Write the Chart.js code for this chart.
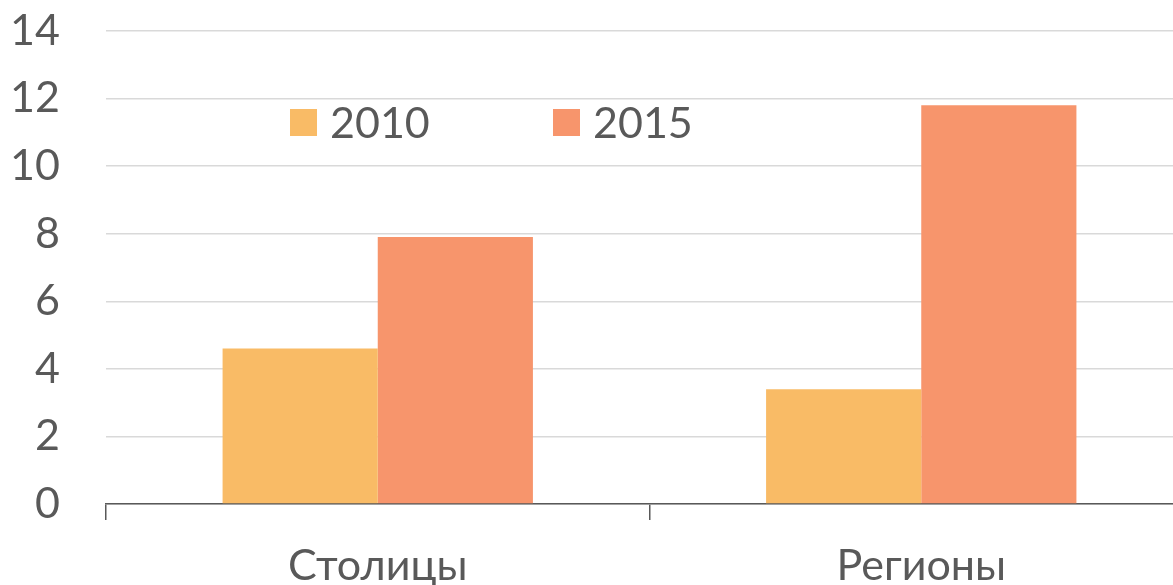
<!DOCTYPE html>
<html>
<head>
<meta charset="utf-8">
<script src="https://cdn.jsdelivr.net/npm/chart.js@4.4.1/dist/chart.umd.min.js"></script>
<style>
  html, body { margin: 0; padding: 0; background: #fff; overflow: hidden; }
  #wrap { position: relative; width: 1195px; height: 585px; }
</style>
</head>
<body>
<div id="wrap"><canvas id="share-chart"></canvas></div>
<script>
const ctxShare = document.getElementById('share-chart').getContext('2d')

const FONT = "Lato, 'Open Sans', sans-serif"
const TEXT_COLOR = '#595959'

const labelsShare = ['Столицы', 'Регионы']
const values2010 = [4.6, 3.4]
const values2015 = [7.9, 11.8]
const yTicks = [0, 2, 4, 6, 8, 10, 12, 14]

// legend drawn inside the plot, like the original
const innerLegend = {
  id: 'innerLegend',
  afterDraw(chart, args, opts) {
    const { ctx, chartArea } = chart
    ctx.save()
    ctx.font = '43px ' + FONT
    ctx.textBaseline = 'middle'
    chart.data.datasets.forEach((ds, i) => {
      const x = chartArea.left + opts.offsets[i]
      const y = opts.top
      ctx.fillStyle = ds.backgroundColor
      ctx.fillRect(x, y, 27, 27)
      ctx.fillStyle = TEXT_COLOR
      ctx.fillText(ds.label, x + 40, y + 15)
    })
    ctx.restore()
  },
}

const dataShare = {
  labels: labelsShare,
  datasets: [
    {
      label: '2010',
      data: values2010,
      backgroundColor: '#F9BB66',
    },
    {
      label: '2015',
      data: values2015,
      backgroundColor: '#F7956C',
    },
  ],
}

const configShare = {
  type: 'bar',
  data: dataShare,
  plugins: [innerLegend],
  options: {
    responsive: true,
    maintainAspectRatio: false,
    animation: false,
    categoryPercentage: 0.571,
    barPercentage: 1,
    layout: { padding: { top: 31, left: 0, right: 2, bottom: 0 } },
    plugins: {
      legend: { display: false },
      tooltip: { enabled: false },
      innerLegend: { top: 109, offsets: [184, 447] },
    },
    scales: {
      x: {
        offset: true,
        grid: {
          offset: true,
          drawOnChartArea: false,
          drawTicks: true,
          tickLength: 16,
          color: TEXT_COLOR,
          lineWidth: 1.5,
        },
        border: { display: true, color: TEXT_COLOR, width: 1.5 },
        ticks: {
          color: TEXT_COLOR,
          font: { family: FONT, size: 43 },
          padding: 20,
        },
        afterFit: scale => {
          scale.height = 81
        },
      },
      y: {
        min: 0,
        max: 14,
        afterBuildTicks: scale => {
          scale.ticks = yTicks.map(v => ({ value: v }))
        },
        grid: {
          color: '#D9D9D9',
          lineWidth: 1.5,
          drawTicks: false,
        },
        border: { display: false },
        ticks: {
          color: TEXT_COLOR,
          font: { family: FONT, size: 43 },
          padding: 46,
        },
        afterFit: scale => {
          scale.width = 106
          scale.paddingTop = 0
          scale.paddingBottom = 0
        },
      },
    },
  },
}
const ShareChart = new Chart(ctxShare, configShare)
</script>
</body>
</html>
